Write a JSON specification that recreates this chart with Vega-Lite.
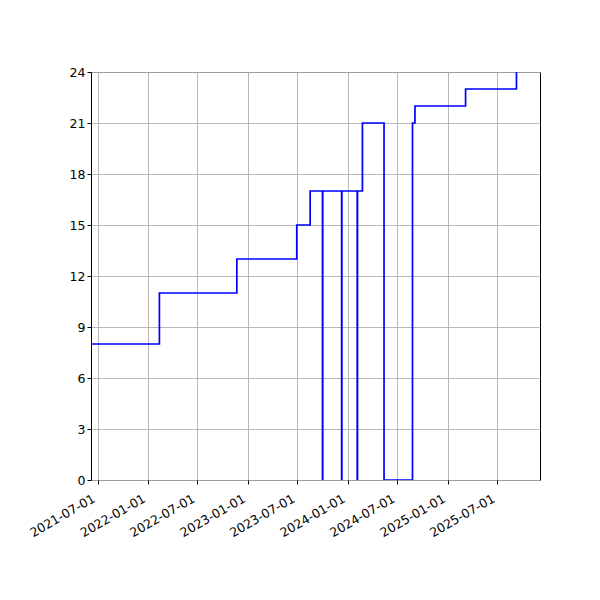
{
  "$schema": "https://vega.github.io/schema/vega-lite/v6.json",
  "autosize": "none",
  "width": 449,
  "height": 408,
  "padding": {"left": 91, "top": 72, "right": 60, "bottom": 120},
  "background": "white",
  "config": {
    "view": {"stroke": "black", "strokeWidth": 1},
    "axis": {
      "labelFont": "DejaVu Sans",
      "labelFontSize": 12.5,
      "labelColor": "black",
      "tickColor": "black",
      "tickSize": 4,
      "domain": false,
      "grid": true,
      "gridColor": "#b0b0b0",
      "gridWidth": 0.9,
      "labelPadding": 2
    }
  },
  "data": {
    "values": [
      {"date": "2021-06-07", "count": 8},
      {"date": "2022-02-12", "count": 11},
      {"date": "2022-11-22", "count": 13},
      {"date": "2023-06-29", "count": 15},
      {"date": "2023-08-17", "count": 17},
      {"date": "2023-10-01", "count": 0},
      {"date": "2023-10-02", "count": 17},
      {"date": "2023-12-10", "count": 0},
      {"date": "2023-12-11", "count": 17},
      {"date": "2024-02-05", "count": 0},
      {"date": "2024-02-06", "count": 17},
      {"date": "2024-02-24", "count": 21},
      {"date": "2024-05-13", "count": 0},
      {"date": "2024-08-25", "count": 21},
      {"date": "2024-09-03", "count": 22},
      {"date": "2025-03-07", "count": 23},
      {"date": "2025-09-09", "count": 24}
    ]
  },
  "mark": {"type": "line", "interpolate": "step-after", "color": "blue", "strokeWidth": 1.7, "clip": true},
  "encoding": {
    "x": {
      "field": "date",
      "type": "temporal",
      "scale": {
        "type": "utc",
        "domain": [
          {"year": 2021, "month": 6, "date": 7, "utc": true},
          {"year": 2025, "month": 12, "date": 4, "utc": true}
        ]
      },
      "axis": {
        "title": null,
        "values": [
          {"year": 2021, "month": 7, "date": 1, "utc": true},
          {"year": 2022, "month": 1, "date": 1, "utc": true},
          {"year": 2022, "month": 7, "date": 1, "utc": true},
          {"year": 2023, "month": 1, "date": 1, "utc": true},
          {"year": 2023, "month": 7, "date": 1, "utc": true},
          {"year": 2024, "month": 1, "date": 1, "utc": true},
          {"year": 2024, "month": 7, "date": 1, "utc": true},
          {"year": 2025, "month": 1, "date": 1, "utc": true},
          {"year": 2025, "month": 7, "date": 1, "utc": true}
        ],
        "labelExpr": "utcFormat(datum.value, '%Y-%m-%d')",
        "labelAngle": -30,
        "labelAlign": "right",
        "labelBaseline": "top",
        "labelPadding": 8,
        "labelOffset": -7,
        "labelFlush": false,
        "labelOverlap": false
      }
    },
    "y": {
      "field": "count",
      "type": "quantitative",
      "scale": {"domain": [0, 24], "nice": false, "zero": true},
      "axis": {
        "title": null,
        "values": [0, 3, 6, 9, 12, 15, 18, 21, 24],
        "labelFlush": false
      }
    }
  }
}
